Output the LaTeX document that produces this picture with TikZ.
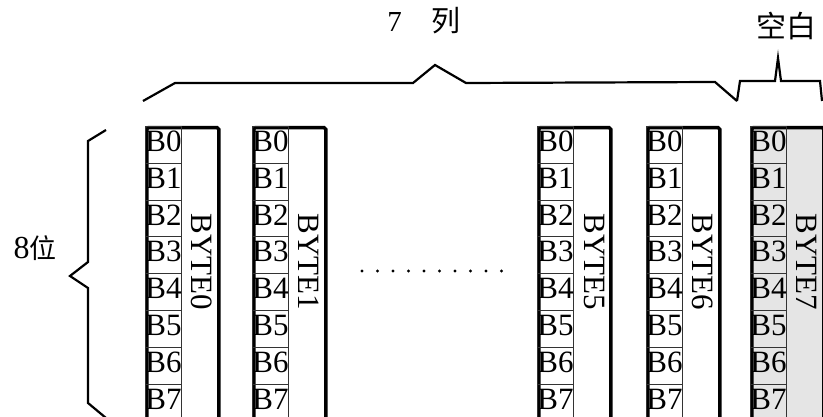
\documentclass[tikz,border=0pt]{standalone}
\usepackage{fontspec}
\setmainfont{Liberation Serif}
\newfontfamily\cjk{Noto Sans CJK SC}
\usepackage{xcolor}
\usepackage{tikz}

\begin{document}
\begin{tikzpicture}[x=1pt, y=-1pt,
  colbox/.style={draw, line width=3.5pt, rounded corners=1.5pt, minimum width=72pt, minimum height=330pt, inner sep=0pt, anchor=north west},
  cell/.style={draw=black!80, line width=0.8pt, minimum width=36pt, minimum height=36.8pt, inner sep=0pt, text depth=7pt, anchor=north west, font=\fontsize{31}{31}\selectfont},
  bytelabel/.style={rotate=-90, inner sep=0pt, font=\fontsize{31}{31}\selectfont},
  brace/.style={line width=2.2pt, line join=miter},
  lbl/.style={inner sep=0pt}]
\useasboundingbox (0,0) rectangle (823,417);
\foreach \n/\x/\c in {0/145/white, 1/252/white, 5/537/white, 6/646/white, 7/750/gray!20} {
  \node (box\n) [colbox, fill=\c] at (\x,126) {};
  \foreach \b in {0,...,7}
    \node (b\n\b) [cell] at (\x,{126+36.8*\b}) {B\b};
  \node (byte\n) [bytelabel] at (\x+57,262) {BYTE\n};
}
\foreach \i in {0,...,9}
  \fill (362+15.5*\i,271) circle (1.7);
\node (cols) [lbl] at (424,21) {\fontsize{29}{29}\selectfont 7\hspace{30pt}{\cjk\fontsize{29}{29}\selectfont 列}};
\node (blank) [lbl] at (786,26) {\cjk\fontsize{30}{30}\selectfont 空白};
\node (bits) [lbl] at (35,248) {\fontsize{32}{32}\selectfont 8{\cjk\fontsize{27}{27}\selectfont 位}};
\draw[brace] (143,101) -- (175,83) -- (413,83) -- (435,65) -- (466,83) -- (715,82) -- (737,101);
\draw[brace] (737,101) -- (740,81) -- (775,81) -- (778,58) -- (781,81) -- (820,81) -- (822,101);
\draw[brace] (106,130) -- (88,141) -- (88,262) -- (70,276) -- (88,288) -- (88,403) -- (106,418);
\end{tikzpicture}
\end{document}
